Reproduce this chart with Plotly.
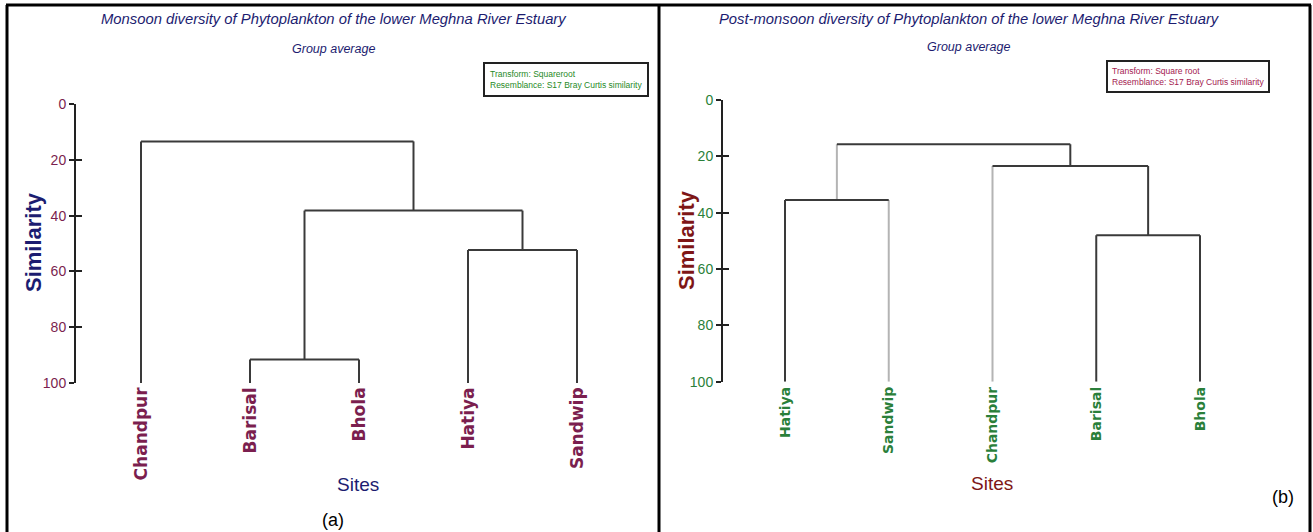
import plotly.graph_objects as go

# ---------------- data ----------------
monsoon_sites = ["Chandpur", "Barisal", "Bhola", "Hatiya", "Sandwip"]
# merges: (child_a, child_b, similarity); children index leaves 0..4, then merges 5..
monsoon_merges = [(1, 2, 91.6), (3, 4, 52.3), (5, 6, 38.2), (0, 7, 13.4)]

post_sites = ["Hatiya", "Sandwip", "Chandpur", "Barisal", "Bhola"]
post_merges = [(0, 1, 35.5), (3, 4, 48.0), (2, 6, 23.4), (5, 7, 15.7)]

similarity_ticks = [0, 20, 40, 60, 80, 100]

# ---------------- styles ----------------
DARK = "#3a3a3a"
GRAY = "#b4b4b4"
monsoon_seg_colors = [(DARK, DARK)] * 4
post_seg_colors = [(DARK, GRAY), (DARK, DARK), (GRAY, DARK), (GRAY, DARK)]

NAVY = "#1c1c70"
MAROON = "#7b1f4f"
GREEN = "#2a7f3a"
DRED = "#7e1616"
GREEN_TXT = "#1f8a1f"
CRIMSON = "#a3204f"
WIDE = "DejaVu Sans, Verdana, sans-serif"
ARIAL = "Liberation Sans, Arial, sans-serif"


def dendro_segments(n_leaves, merges, seg_colors):
    """Return {(kind, color): [segments]} with kind 'v' (vertical) or 'h' (horizontal)."""
    xs = {i: i + 1 for i in range(n_leaves)}
    ys = {i: 100 for i in range(n_leaves)}
    segs = {}
    for k, (a, b, h) in enumerate(merges):
        node = n_leaves + k
        ca, cb = seg_colors[k]
        segs.setdefault(("v", ca), []).append(((xs[a], ys[a]), (xs[a], h)))
        segs.setdefault(("v", cb), []).append(((xs[b], ys[b]), (xs[b], h)))
        segs.setdefault(("h", DARK), []).append(((xs[a], h), (xs[b], h)))
        xs[node] = (xs[a] + xs[b]) / 2
        ys[node] = h
    return segs


fig = go.Figure()


def add_dendro(sites, merges, colors, xref, yref_v, yref_h):
    segs = dendro_segments(len(sites), merges, colors)
    for (kind, col) in sorted(segs, key=lambda k: (k[1] == DARK, k[0])):
        X, Y = [], []
        for (x0, y0), (x1, y1) in segs[(kind, col)]:
            X += [x0, x1, None]
            Y += [y0, y1, None]
        fig.add_trace(go.Scatter(x=X, y=Y, mode="lines", xaxis=xref,
                                 yaxis=yref_v if kind == "v" else yref_h,
                                 line=dict(color=col, width=2), hoverinfo="skip",
                                 showlegend=False))


add_dendro(monsoon_sites, monsoon_merges, monsoon_seg_colors, "x", "y", "y3")
add_dendro(post_sites, post_merges, post_seg_colors, "x2", "y2", "y4")

W, H = 1313, 532


def px(v):
    return v / W


def py(v):
    return 1 - v / H


def xaxis(dom, rng, sites, color, size):
    return dict(domain=dom, range=rng, showgrid=False, zeroline=False, showline=False,
                tickmode="array", tickvals=list(range(1, len(sites) + 1)), ticktext=sites,
                tickangle=-90, ticks="", 
                tickfont=dict(family=WIDE, size=size, color=color, weight="bold"),
                fixedrange=True, automargin=False)


def yaxis(dom, anchor, color):
    return dict(domain=dom, anchor=anchor, range=[100, 0], showgrid=False, zeroline=False,
                showline=True, linecolor="#222", linewidth=2,
                tickmode="array", tickvals=similarity_ticks,
                ticks="outside", ticklen=5, tickwidth=2, tickcolor="#222",
                tickfont=dict(family=ARIAL, size=14, color=color), fixedrange=True,
                automargin=False)


def yaxis_inner(over, anchor):
    return dict(overlaying=over, anchor=anchor, range=[100, 0], showgrid=False,
                zeroline=False, showline=False, tickmode="array", tickvals=similarity_ticks,
                ticks="inside", ticklen=6, tickwidth=2, tickcolor="#222",
                showticklabels=False, fixedrange=True, automargin=False)


lx0, lx1 = 76, 650
rx0, rx1 = 723, 1300
fig.update_layout(
    width=W, height=H, margin=dict(l=0, r=0, t=0, b=0, autoexpand=False),
    paper_bgcolor="white", plot_bgcolor="white", showlegend=False,
    xaxis=xaxis([px(lx0), px(lx1)], [1 - (141 - lx0) / 109, 5 + (lx1 - 577) / 109],
                monsoon_sites, MAROON, 17),
    yaxis=yaxis([py(383), py(104)], "x", MAROON),
    yaxis3=yaxis_inner("y", "x"),
    xaxis2=xaxis([px(rx0), px(rx1)], [1 - (785 - rx0) / 103.75, 5 + (rx1 - 1200) / 103.75],
                 post_sites, GREEN, 14),
    yaxis2=yaxis([py(381.7), py(100)], "x2", GREEN),
    yaxis4=yaxis_inner("y2", "x2"),
)

ann = []
# titles
ann.append(dict(text="Monsoon diversity of Phytoplankton of the lower Meghna River Estuary",
                x=px(334), y=py(19), font=dict(family=ARIAL, size=14.8, color=NAVY, style="italic")))
ann.append(dict(text="Group average", x=px(334), y=py(49),
                font=dict(family=ARIAL, size=12.5, color=NAVY, style="italic")))
ann.append(dict(text="Post-monsoon diversity of Phytoplankton of the lower Meghna River Estuary",
                x=px(969), y=py(19), font=dict(family=ARIAL, size=14.8, color=NAVY, style="italic")))
ann.append(dict(text="Group average", x=px(968), y=py(47),
                font=dict(family=ARIAL, size=12.5, color=NAVY, style="italic")))
# axis titles
ann.append(dict(text="<b>Similarity</b>", x=px(33), y=py(242), textangle=-90,
                font=dict(family=ARIAL, size=22, color=NAVY)))
ann.append(dict(text="<b>Similarity</b>", x=px(686), y=py(240), textangle=-90,
                font=dict(family=ARIAL, size=22, color=DRED)))
ann.append(dict(text="Sites", x=px(358), y=py(484),
                font=dict(family=ARIAL, size=19, color=NAVY)))
ann.append(dict(text="Sites", x=px(992), y=py(483),
                font=dict(family=ARIAL, size=19, color=DRED)))
# panel labels
ann.append(dict(text="(a)", x=px(333), y=py(520), font=dict(family=ARIAL, size=18, color="black")))
ann.append(dict(text="(b)", x=px(1283), y=py(497), font=dict(family=ARIAL, size=18, color="black")))
# info boxes
ann.append(dict(text="Transform: Squareroot<br>Resemblance: S17 Bray Curtis similarity",
                x=px(483), y=py(62), xanchor="left", yanchor="top", align="left",
                bordercolor="#222", borderwidth=2, borderpad=5, bgcolor="white",
                font=dict(family=ARIAL, size=8.5, color=GREEN_TXT)))
ann.append(dict(text="Transform: Square root<br>Resemblance: S17 Bray Curtis similarity",
                x=px(1106), y=py(60), xanchor="left", yanchor="top", align="left",
                bordercolor="#222", borderwidth=2, borderpad=4, bgcolor="white",
                font=dict(family=ARIAL, size=8.5, color=CRIMSON)))
for a in ann:
    a.setdefault("xanchor", "center")
    a.setdefault("yanchor", "middle")
    a.update(xref="paper", yref="paper", showarrow=False)
fig.update_layout(annotations=ann)

# frame lines
shapes = []
for x in (7, 659, 1310):
    shapes.append(dict(type="line", xref="paper", yref="paper", x0=px(x), x1=px(x),
                       y0=0, y1=py(5), line=dict(color="black", width=3)))
shapes.append(dict(type="line", xref="paper", yref="paper", x0=px(6), x1=px(1311),
                   y0=py(5), y1=py(5), line=dict(color="black", width=3)))
fig.update_layout(shapes=shapes)

fig.write_html("out.html", post_script="document.body.style.margin='0';")
